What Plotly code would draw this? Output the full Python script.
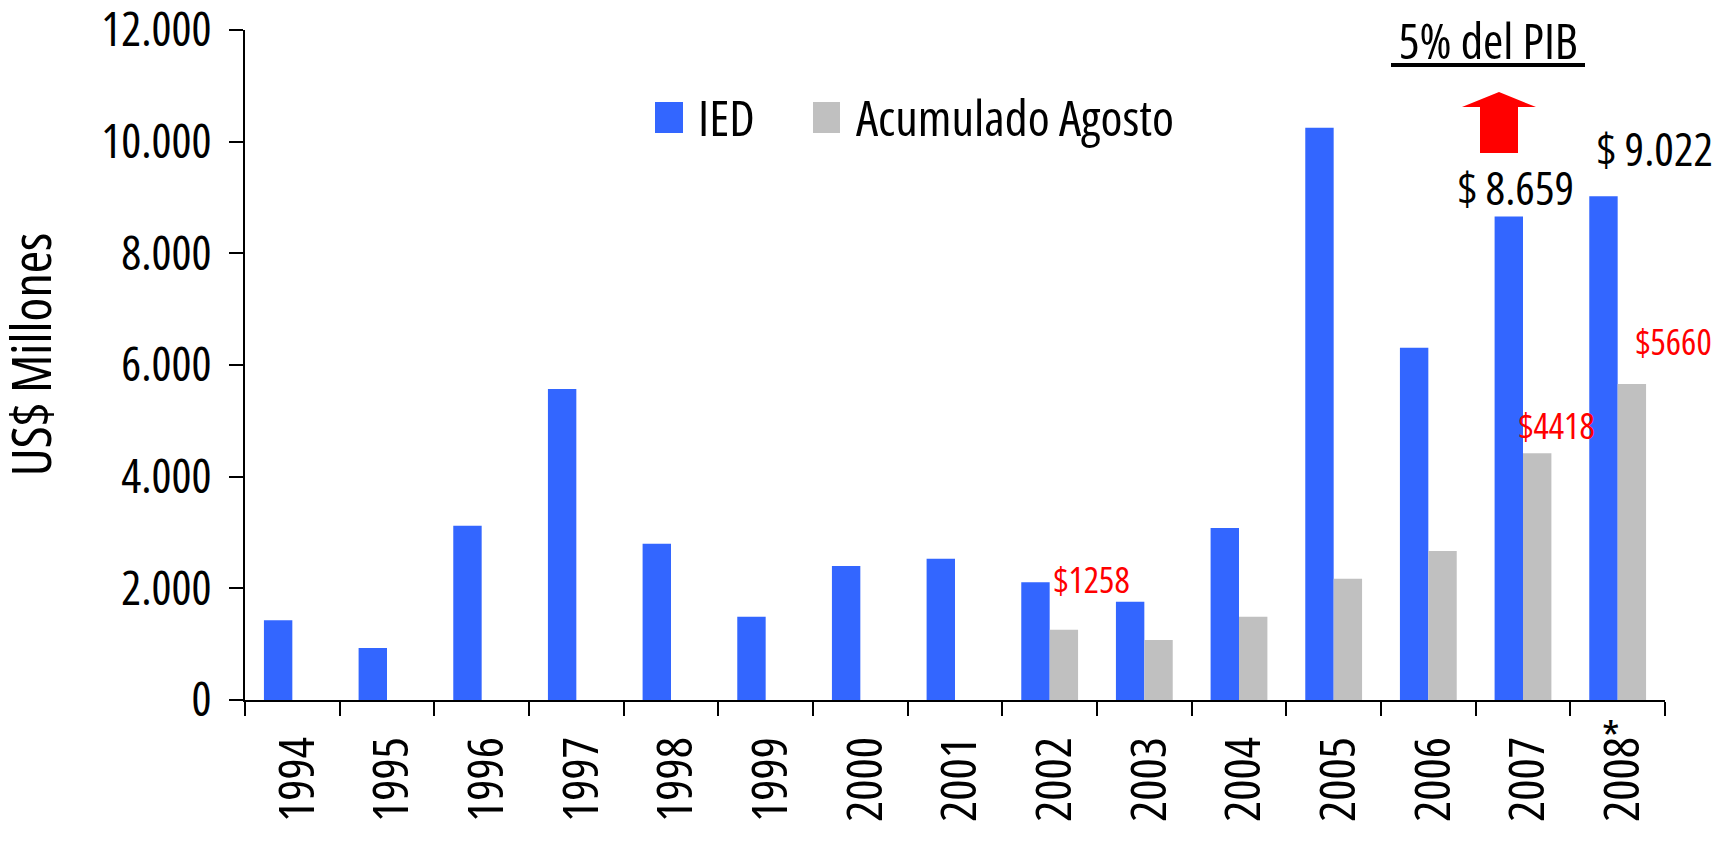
import plotly.graph_objects as go

# ---------------- data ----------------
years = ["1994", "1995", "1996", "1997", "1998", "1999", "2000", "2001",
         "2002", "2003", "2004", "2005", "2006", "2007", "2008"]
ied = [1430, 930, 3120, 5570, 2800, 1490, 2400, 2530,
       2110, 1760, 3080, 10250, 6310, 8659, 9022]
acumulado_agosto = [None, None, None, None, None, None, None, None,
                    1258, 1075, 1490, 2170, 2670, 4418, 5660]
y_ticks = [0, 2000, 4000, 6000, 8000, 10000, 12000]

series_names = ["IED", "Acumulado Agosto"]
colors = ["#3366FF", "#C0C0C0"]

FONT = "Open Sans, Roboto Condensed, sans-serif"
BIG = 46
YTICK = 47
XTICK = 50
LEG = 50
TITLE = 54
PIB = 49
RED = 36

# page body margin offset (figure is drawn at 8,8 in the page)
OFF = 8
W, H = 1716, 826
L, R, T, B = 237, 59, 22, 134
PW, PH = W - L - R, H - T - B


def px_x(px):
    return (px - OFF - L) / PW


def px_y(py):
    return (H - B - (py - OFF)) / PH


fig = go.Figure()
fig.add_trace(go.Bar(x=years, y=ied, name=series_names[0],
                     marker=dict(color=colors[0], line=dict(width=0)),
                     showlegend=False))
fig.add_trace(go.Bar(x=years, y=acumulado_agosto, name=series_names[1],
                     marker=dict(color=colors[1], line=dict(width=0)),
                     showlegend=False))

annotations = []

# value labels (black) above IED bars
for yr, dx, dy in [("2007", -7, 30), ("2008", 37, 48)]:
    i = years.index(yr)
    val = ied[i]
    txt = "$ " + f"{val:,}".replace(",", ".")
    annotations.append(dict(x=i, y=val, xref="x", yref="y", text=txt,
                            showarrow=False, xanchor="center", yanchor="middle",
                            xshift=dx, yshift=dy,
                            font=dict(family=FONT, size=BIG, color="black")))

# red labels for Acumulado Agosto
for yr, dx, dy in [("2002", 42, 50), ("2007", 33, 28), ("2008", 56, 42)]:
    i = years.index(yr)
    val = acumulado_agosto[i]
    annotations.append(dict(x=i, y=val, xref="x", yref="y", text="$%d" % val,
                            showarrow=False, xanchor="center", yanchor="middle",
                            xshift=dx, yshift=dy,
                            font=dict(family=FONT, size=RED, color="#FF0000")))

shapes = []

# "5% del PIB" with underline
annotations.append(dict(x=px_x(1488), y=px_y(40), xref="paper", yref="paper",
                        text="5% del PIB", showarrow=False,
                        xanchor="center", yanchor="middle",
                        font=dict(family=FONT, size=PIB, color="black")))
shapes.append(dict(type="line", xref="paper", yref="paper",
                   x0=px_x(1391), x1=px_x(1585), y0=px_y(65), y1=px_y(65),
                   line=dict(color="black", width=4)))

# asterisk on 2008
annotations.append(dict(x=years.index("2008"), y=px_y(737), xref="x", yref="paper",
                        text="*", showarrow=False, xshift=-7,
                        xanchor="center", yanchor="middle",
                        font=dict(family=FONT, size=BIG, color="black")))

# y axis title
annotations.append(dict(x=px_x(30), y=px_y(355), xref="paper", yref="paper",
                        text="US$ Millones", textangle=-90, showarrow=False,
                        xanchor="center", yanchor="middle",
                        font=dict(family=FONT, size=TITLE, color="black")))

# manual legend
leg_y0, leg_y1 = 102, 133
for (x0, x1, tx), name, col in zip([(655, 683, 696), (813, 840, 854)],
                                   series_names, colors):
    shapes.append(dict(type="rect", xref="paper", yref="paper",
                       x0=px_x(x0), x1=px_x(x1), y0=px_y(leg_y1), y1=px_y(leg_y0),
                       fillcolor=col, line=dict(width=0)))
    annotations.append(dict(x=px_x(tx), y=px_y(117), xref="paper", yref="paper",
                            text=name, showarrow=False, xanchor="left",
                            align="left", yanchor="middle",
                            font=dict(family=FONT, size=LEG, color="black")))

# red arrow
arrow_pts = [(1499, 92), (1536, 107), (1518, 107), (1518, 153),
             (1480, 153), (1480, 107), (1462, 107)]
path = "M " + " L ".join("%.5f,%.5f" % (px_x(a), px_y(b)) for a, b in arrow_pts) + " Z"
shapes.append(dict(type="path", xref="paper", yref="paper", path=path,
                   fillcolor="#FF0000", line=dict(width=0)))

fig.update_layout(
    width=W, height=H,
    margin=dict(l=L, r=R, t=T, b=B, autoexpand=False),
    paper_bgcolor="white", plot_bgcolor="white",
    barmode="group", bargap=0.4, bargroupgap=0,
    separators=",.",
    font=dict(family=FONT, size=BIG, color="black"),
    annotations=annotations, shapes=shapes,
    showlegend=False,
)
fig.update_xaxes(type="category", range=[-0.5, len(years) - 0.5],
                 showgrid=False, showline=True,
                 linecolor="black", linewidth=2, ticks="outside",
                 tickson="boundaries", ticklen=14, tickwidth=2,
                 tickcolor="black", tickangle=-90,
                 tickfont=dict(family=FONT, size=XTICK, color="black"),
                 ticklabelstandoff=15, ticklabelshift=5,
                 ticklabeloverflow="allow")
fig.update_yaxes(range=[0, 12000], tickvals=y_ticks, tickformat=",d",
                 showgrid=False, zeroline=False, showline=True,
                 linecolor="black", linewidth=2, ticks="outside",
                 ticklen=14, tickwidth=2, tickcolor="black",
                 tickfont=dict(family=FONT, size=YTICK, color="black"),
                 ticklabelstandoff=8, ticklabeloverflow="allow")

# condensed type (the reference uses a narrow face)
condense_js = """
document.querySelectorAll('.main-svg text').forEach(function (t) {
  t.style.fontStretch = 'condensed';
});
"""

fig.write_html("out.html", post_script=condense_js)
